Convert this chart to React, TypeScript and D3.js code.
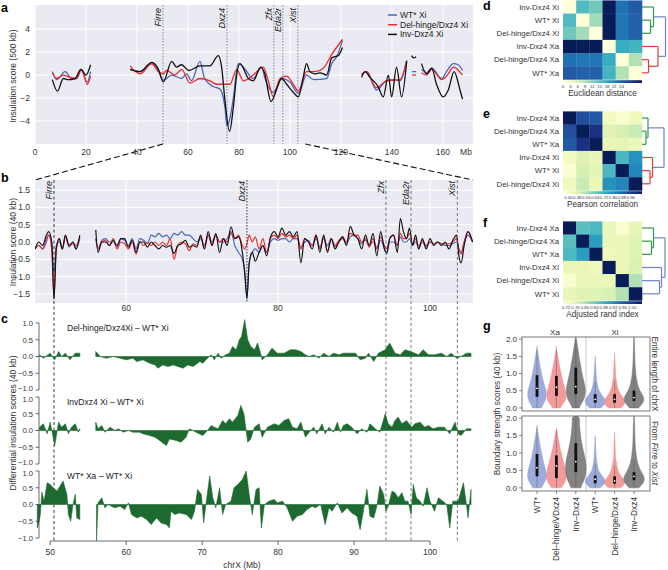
import React, { useEffect } from "react";
import * as d3 from "d3";

type P = [number, number];

const FONT = "'Liberation Sans', Arial, Helvetica, sans-serif";
const C_BLUE = "#4a66bf";
const C_RED = "#ec2a2a";
const C_BLACK = "#111111";
const C_GREEN = "#1d6a31";
const BG = "#eaeaf2";
const TXT = "#333333";

// ---------------- panel a ----------------
const aXTicks = [0, 20, 40, 60, 80, 100, 120, 140, 160];
const aYTicks = [-4, -2, 0, 2, 4];
const geneNames = ["Firre", "Dxz4", "Zfx", "Eda2r", "Xist"];
const genePosA = [50.2, 75.3, 93.7, 97.2, 103.1];
const genePosB = [50.5, 75.9, 94.2, 97.5, 103.6];
const seriesNames = ["WT* Xi", "Del-hinge/Dxz4 Xi", "Inv-Dxz4 Xi"];
const seriesColors = [C_BLUE, C_RED, C_BLACK];

const aBlue: P[][] = [
  [[6.8, 0.3], [8.5, -0.4], [11.8, 0.3], [14.4, -0.3], [16.3, -0.3], [18.0, 0.5], [20.5, -0.6], [21.8, 0.3]],
  [[37.3, 0.5], [41.2, 0.3], [45.8, 1.0], [48.0, 0.6], [50.3, -0.45], [53.6, 0.0], [57.5, -0.3], [59.5, 0.1], [61.4, -0.5], [64.7, 1.2], [66.5, -0.3], [69.9, -1.0], [72.5, -1.2], [74.6, -3.0], [75.2, -4.4], [76.2, -4.0], [77.8, -2.0], [79.7, 1.0], [81.7, 0.7], [85.6, -0.3], [88.9, 0.7], [90.2, -0.3], [93.5, -1.5], [96.7, -0.3], [100.0, -0.6], [103.3, -1.6], [106.5, 0.0], [109.2, -0.4], [114.4, -0.3], [116.4, 1.0], [118.3, 1.6], [120.6, 3.0]],
  [[128.1, 0.1], [130.1, 0.3], [133.9, -1.3], [137.9, -0.5], [140.5, -0.4], [143.1, -0.5], [145.8, 1.3]],
  [[147.9, 0.3], [149.5, 0.3]],
  [[151.6, 0.5], [153.6, 0.2], [155.6, 0.6], [159.5, -0.3], [161.4, 0.3], [164.1, 1.0], [166.0, 0.9], [167.7, 0.4]],
];
const aRed: P[][] = [
  [[6.8, 0.2], [8.5, -0.3], [11.1, 0.0], [13.7, -0.2], [16.3, -0.3], [18.3, 0.5], [20.5, -0.8], [21.8, -0.1]],
  [[37.3, 0.8], [41.2, 0.1], [45.8, 1.0], [48.4, 0.3], [50.3, 0.1], [51.6, 0.4], [54.9, 0.0], [57.5, 0.5], [60.8, -0.7], [64.7, -0.3], [68.6, -0.5], [71.2, -0.8], [76.5, -0.8], [79.1, 0.5], [81.7, -0.5], [85.6, 0.0], [89.5, 0.7], [91.5, -0.5], [93.5, -1.9], [96.1, -0.3], [98.7, -0.1], [101.3, -0.8], [103.3, -1.4], [106.5, 0.3], [109.8, 0.3], [113.1, 0.6], [116.4, 1.8], [120.6, 3.1]],
  [[128.1, 0.0], [130.1, 0.3], [133.9, -1.1], [137.9, -0.5], [143.1, -0.4], [145.8, 1.2]],
  [[147.9, 0.0], [149.5, 0.0]],
  [[151.6, 0.2], [153.6, 0.0], [155.6, 0.5], [159.5, -0.4], [162.1, 0.1], [164.1, 0.7], [167.7, 0.0]],
];
const aBlack: P[][] = [
  [[6.8, -0.4], [8.8, -1.4], [11.1, -0.3], [13.1, -0.4], [15.7, -0.3], [18.0, 0.5], [20.0, 0.0], [21.8, 0.9]],
  [[37.3, 0.5], [41.2, 0.3], [45.8, 1.1], [48.4, 0.5], [50.3, -0.6], [53.6, 1.2], [55.5, 0.7], [57.5, 0.9], [60.3, 0.4], [64.7, 0.8], [68.6, 0.8], [71.9, 1.7], [73.2, 0.7], [74.5, -2.2], [76.3, -4.9], [77.8, -2.8], [79.1, 0.0], [80.4, 1.0], [83.7, -0.3], [85.6, -0.5], [88.5, 0.7], [90.0, 0.2], [92.6, -2.3], [94.8, -1.2], [96.7, -0.3], [98.7, -0.8], [101.3, -1.5], [103.3, -1.9], [105.2, -0.2], [106.5, 1.0], [107.8, 0.3], [109.8, 0.1], [111.8, 0.2], [114.4, 0.0], [116.4, 1.5], [119.0, 1.7], [120.6, 2.4]],
  [[128.1, -0.2], [129.4, 0.3], [131.4, -0.2], [134.6, -1.0], [136.6, -1.9], [138.6, 0.0], [139.9, -1.9], [141.8, 0.7], [143.8, -1.9], [145.8, 1.2]],
  [[147.7, 1.7], [148.5, 1.5], [149.5, 1.6]],
  [[151.6, 1.0], [153.6, 0.1], [155.6, 0.6], [157.5, -0.8], [160.1, -1.9], [162.1, -1.3], [164.4, 0.3], [166.7, -1.3], [167.7, -2.1]],
];

// ---------------- panel b ----------------
const bXTicks = [60, 80, 100];
const bYTicks = [-1.5, -1.0, -0.5, 0.0, 0.5, 1.0, 1.5];
const bX1 = [48, 48.5, 49, 49.5, 49.8, 50.2, 50.5, 50.8, 51.2, 51.6, 52, 52.5, 53, 53.4, 53.9];
const bBlack1 = [-0.2, 0, -0.1, 0.2, 0.3, 0, -1.65, -0.2, 0.1, -0.2, 0.2, -0.1, 0, -0.2, 0.2];
const bBlue1 = [-0.2, -0.1, -0.2, 0, 0.2, 0, -0.9, -0.1, 0, -0.2, 0.15, -0.15, 0, -0.2, 0.1];
const bRed1 = [-0.2, -0.1, -0.2, 0.1, 0.2, -0.2, -1.6, -0.2, 0.1, -0.2, 0.15, -0.1, -0.05, -0.1, 0.15];
const bX2 = [
  56.0, 56.3, 56.8, 57.3, 57.8, 58.3, 58.8, 59.3, 59.8, 60.3,
  60.8, 61.3, 61.8, 62.3, 62.8, 63.3, 63.8, 64.3, 64.8, 65.3,
  65.8, 66.3, 66.8, 67.3, 67.8, 68.3, 68.8, 69.3, 69.8, 70.3,
  70.8, 71.3, 71.8, 72.3, 72.8, 73.3, 73.8, 74.3, 74.8, 75.3,
  75.6, 75.9, 76.2, 76.6, 77.0, 77.5, 78.0, 78.5, 79.0, 79.5,
  80.0, 80.5, 81.0, 81.5, 82.0, 82.5, 83.0, 83.5, 84.0, 84.5,
  85.0, 85.5, 86.0, 86.5, 87.0, 87.5, 88.0, 88.5, 89.0, 89.5,
  90.0, 90.5, 91.0, 91.5, 92.0, 92.5, 93.0, 93.5, 94.0, 94.3,
  94.7, 95.2, 95.7, 96.1, 96.5, 96.9, 97.3, 97.7, 98.1, 98.5,
  99.0, 99.5, 100.0, 100.5, 101.0, 101.5, 102.0, 102.5, 103.0, 103.5,
  103.8, 104.1, 104.5, 105.0, 105.6,
];
const bBlack2 = [
  0.35, -0.3, 0.0, 0.0, -0.1, 0.05, -0.1, 0.1, 0.1, -0.15,
  0.05, -0.3, 0.0, 0.0, -0.15, 0.0, -0.1, -0.2, -0.1, -0.15,
  -0.1, -0.33, -0.1, -0.05, 0.05, -0.15, -0.1, -0.15, 0.2, -0.2,
  0.3, -0.1, 0.25, -0.3, 0.1, -0.1, 0.44, 0.1, 0.15, -0.3,
  -0.9, -1.6, -0.6, -0.3, -0.55, -0.3, -0.1, -0.4, 0.15, 0.3,
  0.15, 0.4, 0.2, 0.3, 0.15, 0.3, -0.6, 0.1, 0.0, -0.2,
  0.2, -0.3, 0.2, -0.3, 0.1, -0.2, 0.0, 0.15, -0.1, 0.45,
  0.2, 0.1, -0.2, 0.2, -0.1, 0.25, -0.4, 0.3, -0.2, -0.3,
  0.1, 0.2, -0.3, 0.68, 0.3, 0.1, 0.4, -0.1, 0.2, -0.2,
  0.1, -0.2, 0.1, -0.1, 0.0, -0.1, 0.0, -0.2, 0.05, 0.2,
  -0.4, -0.6, -0.1, 0.3, 0.0,
];
const bBlue2 = [
  0.1, -0.2, 0.05, 0.1, 0.0, 0.0, -0.15, 0.1, 0.05, -0.1,
  0.1, -0.2, 0.1, 0.05, -0.05, 0.2, 0.15, 0.25, 0.15, 0.2,
  0.1, 0.25, 0.2, 0.3, 0.2, 0.2, 0.1, 0.0, 0.1, -0.1,
  0.2, 0.0, 0.2, 0.0, 0.0, 0.1, 0.3, -0.1, -0.3, -0.5,
  -0.8, -1.65, -0.6, -0.3, -0.2, -0.3, -0.1, -0.3, 0.0, 0.1,
  0.05, 0.1, 0.1, 0.0, 0.1, 0.1, -0.15, 0.0, 0.05, -0.1,
  0.1, -0.15, 0.1, -0.1, 0.1, -0.15, 0.0, 0.1, -0.05, 0.15,
  0.2, 0.1, -0.05, 0.05, -0.1, 0.0, -0.15, 0.05, -0.2, -0.35,
  0.0, 0.0, -0.1, 0.15, 0.0, 0.0, 0.1, -0.1, 0.0, -0.1,
  0.0, -0.15, 0.0, -0.05, 0.0, -0.05, -0.1, -0.1, -0.05, 0.0,
  -0.2, -0.3, 0.0, 0.2, 0.0,
];
const bRed2 = [
  0.1, -0.2, 0.0, 0.05, -0.1, 0.1, -0.2, 0.0, -0.05, -0.2,
  0.0, -0.35, 0.0, -0.1, 0.0, -0.1, 0.0, -0.1, 0.0, -0.1,
  0.1, -0.5, -0.1, 0.0, -0.05, -0.25, -0.05, -0.1, 0.15, -0.2,
  0.2, -0.1, 0.2, 0.0, 0.1, 0.0, 0.25, 0.1, 0.2, -0.1,
  -0.2, -0.05, 0.2, 0.0, 0.15, -0.2, 0.1, -0.3, 0.1, 0.2,
  0.1, 0.25, 0.15, 0.2, 0.1, 0.2, -0.2, 0.1, 0.0, -0.1,
  0.2, -0.2, 0.15, -0.25, 0.1, -0.1, 0.05, 0.15, 0.0, 0.25,
  0.2, 0.2, 0.0, 0.1, -0.15, 0.1, -0.2, 0.15, -0.1, -0.2,
  0.1, 0.2, -0.1, 0.25, 0.1, 0.1, 0.25, -0.05, 0.1, -0.2,
  0.05, -0.1, 0.0, -0.05, 0.0, -0.05, -0.05, -0.05, 0.0, 0.1,
  -0.2, -0.35, 0.0, 0.3, 0.0,
];

// ---------------- panel c ----------------
const cXTicks = [50, 60, 70, 80, 90, 100];
const cYTicks = [-1.0, -0.5, 0.0, 0.5, 1.0];
const cTitles = ["Del-hinge/Dxz4Xi \u2013 WT* Xi", "InvDxz4 Xi \u2013 WT* Xi", "WT* Xa \u2013 WT* Xi"];
const cDel: P[][] = [
  [[48.6, 0.05], [49.1, -0.05], [50.0, 0.1], [50.6, -0.1], [51.1, 0.15], [51.5, 0.0], [52.0, 0.1], [52.6, -0.1], [53.3, 0.1], [53.9, 0.1]],
  [[56.0, 0.15], [56.6, 0.0], [57.4, -0.05], [58.3, 0.0], [59.2, -0.05], [60.0, -0.1], [60.9, -0.05], [61.4, -0.15], [62.2, -0.1], [63.1, -0.2], [63.8, -0.25], [64.2, -0.35], [64.8, -0.25], [65.5, -0.3], [66.2, -0.25], [67.5, -0.35], [68.1, -0.25], [68.8, -0.3], [69.7, -0.15], [70.1, -0.2], [70.5, -0.1], [71.2, 0.05], [71.6, -0.1], [72.1, 0.1], [72.5, -0.05], [73.1, 0.05], [73.6, 0.1], [74.0, 0.3], [74.5, 0.2], [74.9, 0.5], [75.2, 0.6], [75.6, 1.1], [76.0, 0.5], [76.4, 0.3], [76.9, 0.2], [77.3, 0.4], [77.7, 0.1], [77.9, -0.1], [78.6, 0.05], [79.2, 0.25], [79.9, 0.1], [80.8, 0.1], [81.6, 0.2], [82.3, 0.2], [83.0, 0.15], [83.6, 0.05], [84.1, 0.0], [84.7, 0.05], [85.4, -0.05], [86.0, 0.1], [86.7, 0.0], [87.3, 0.1], [88.0, 0.05], [88.6, 0.1], [89.5, 0.1], [90.2, 0.1], [90.8, -0.1], [91.5, -0.05], [91.9, 0.1], [92.6, -0.15], [93.2, 0.1], [94.1, 0.2], [94.7, 0.4], [95.4, 0.1], [96.1, 0.05], [96.7, 0.2], [97.4, 0.15], [98.0, 0.1], [98.5, 0.05], [99.1, 0.2], [99.8, 0.05], [100.6, 0.05], [101.5, 0.1], [102.2, 0.0], [102.8, 0.1], [103.5, -0.05], [104.1, 0.0], [104.8, 0.1], [105.4, 0.1]],
];
const cInv: P[][] = [
  [[48.6, 0.1], [49.1, 0.2], [49.6, -0.1], [50.0, 0.25], [50.6, -0.45], [51.1, 0.25], [51.5, 0.1], [52.0, 0.2], [52.4, -0.1], [52.8, 0.1], [53.3, 0.2], [53.7, -0.05], [53.9, 0.05]],
  [[56.0, 0.25], [56.3, 0.05], [56.8, 0.15], [57.2, -0.05], [57.9, 0.1], [58.5, 0.0], [59.0, 0.05], [59.6, -0.05], [60.3, 0.0], [60.9, -0.05], [61.8, -0.05], [62.2, -0.1], [63.1, -0.15], [63.8, -0.2], [64.4, -0.3], [65.3, -0.45], [65.7, -0.25], [66.6, -0.3], [67.2, -0.35], [67.9, -0.2], [68.3, 0.05], [68.8, 0.0], [69.2, -0.05], [70.1, -0.15], [70.7, 0.0], [71.2, 0.15], [71.6, 0.1], [72.1, 0.05], [72.7, 0.3], [73.1, 0.2], [73.6, 0.35], [74.0, 0.25], [74.7, 0.45], [75.1, 0.75], [75.5, 0.5], [76.0, -0.35], [76.4, -0.25], [76.9, 0.1], [77.5, 0.2], [77.9, -0.2], [78.6, 0.1], [79.5, 0.2], [80.1, 0.15], [80.8, 0.3], [81.4, 0.35], [81.9, 0.1], [82.5, 0.05], [83.0, 0.25], [83.6, -0.2], [84.1, -0.05], [84.7, 0.1], [85.1, -0.1], [85.8, 0.2], [86.2, -0.1], [86.7, 0.1], [87.3, -0.05], [87.8, 0.25], [88.2, -0.05], [88.6, 0.15], [89.1, 0.2], [89.7, 0.1], [90.4, -0.1], [91.0, 0.05], [91.7, -0.05], [92.1, 0.2], [92.8, 0.05], [93.4, -0.05], [94.1, 0.5], [94.5, 0.2], [95.0, 0.1], [95.4, 0.3], [95.8, 0.4], [96.3, 0.2], [96.9, 0.3], [97.6, 0.1], [98.0, 0.2], [98.7, 0.25], [99.3, 0.1], [99.8, 0.15], [100.4, 0.05], [101.1, 0.1], [101.9, 0.1], [102.6, -0.1], [103.3, 0.25], [103.7, -0.1], [104.1, -0.15], [104.8, 0.05], [105.4, 0.05]],
];
const cXa: P[][] = [
  [[48.3, -0.7], [48.5, -0.55], [48.7, -0.3], [48.9, 0.37], [49.2, 0.1], [49.6, 0.65], [50.0, 0.6], [50.4, 0.5], [50.9, 0.4], [51.3, 0.55], [51.7, 0.7], [52.2, 0.3], [52.4, -0.3], [52.7, -0.5], [53.0, 0.0], [53.3, 0.3], [53.5, -0.4], [53.9, -0.45]],
  [[56.1, -1.08], [56.3, 0.05], [56.8, 0.2], [57.2, -0.1], [57.6, 0.0], [58.5, -0.1], [59.2, -0.05], [59.8, -0.15], [60.3, 0.05], [60.7, -0.3], [61.4, -0.4], [62.0, -0.35], [62.7, -0.45], [63.3, -0.6], [64.0, -0.4], [64.6, -0.55], [65.3, -0.6], [65.7, -0.7], [65.9, -0.2], [66.4, -0.3], [67.0, -0.25], [67.9, -0.3], [68.6, -0.45], [69.0, -0.2], [69.4, 0.45], [69.9, 0.3], [70.2, -0.55], [70.5, 0.0], [71.0, 0.85], [71.4, 0.2], [71.8, -0.1], [72.3, 0.5], [72.7, -0.3], [73.1, 0.0], [73.8, 0.1], [74.2, 0.5], [74.7, 0.6], [75.3, 0.75], [75.8, 1.0], [76.2, 0.3], [76.6, -0.3], [77.1, 0.45], [77.5, 0.5], [77.8, -0.7], [78.2, 0.0], [78.8, 0.1], [79.5, 0.15], [79.9, 0.05], [80.6, 0.1], [81.2, -0.1], [81.9, -0.5], [82.5, -0.35], [83.2, -0.3], [83.8, -0.15], [84.5, -0.05], [84.9, -0.1], [85.6, 0.0], [86.2, -0.6], [86.7, -0.1], [87.1, -0.2], [87.8, 0.05], [88.4, -0.25], [89.1, -0.1], [89.7, -0.25], [90.4, -0.35], [90.8, -0.75], [91.3, -0.1], [91.7, 0.45], [92.1, -0.35], [92.6, -0.4], [93.0, -0.05], [93.4, 0.55], [93.9, 0.3], [94.2, -0.2], [94.5, -0.05], [95.0, 0.4], [95.4, 0.35], [95.8, 0.2], [96.3, 0.35], [96.7, 0.1], [97.1, 0.1], [97.5, -0.3], [97.8, 0.6], [98.2, 0.2], [98.7, 0.1], [99.1, -0.05], [99.6, 0.5], [100.0, 0.1], [100.6, -0.2], [101.1, 0.2], [101.7, 0.1], [102.2, 0.0], [102.6, -0.7], [103.0, 0.1], [103.7, 0.1], [104.4, 0.65], [104.8, 0.0], [105.0, -0.4], [105.4, 0.45]],
];

// ---------------- panels d, e, f ----------------
const dLabels = ["Inv-Dxz4 Xi", "WT* Xi", "Del-hinge/Dxz4 Xi", "Inv-Dxz4 Xa", "Del-hinge/Dxz4 Xa", "WT* Xa"];
const dMatrix = [
  [0, 15, 13, 32, 22.5, 24.5],
  [15, 0, 10, 32, 22, 24],
  [13, 10, 0, 32, 22, 24],
  [32, 32, 32, 0, 17, 16],
  [22.5, 22, 22, 17, 0, 9],
  [24.5, 24, 24, 16, 9, 0],
];
const dTicks = [0, 3, 6, 9, 12, 15, 18, 21, 24];
const eLabels = ["Inv-Dxz4 Xa", "Del-hinge/Dxz4 Xa", "WT* Xa", "Inv-Dxz4 Xi", "WT* Xi", "Del-hinge/Dxz4 Xi"];
const eMatrix = [
  [1, 0.876, 0.857, 0.43, 0.4, 0.44],
  [0.876, 1, 0.94, 0.48, 0.5, 0.52],
  [0.857, 0.94, 1, 0.46, 0.47, 0.45],
  [0.43, 0.48, 0.46, 1, 0.68, 0.76],
  [0.4, 0.5, 0.47, 0.68, 1, 0.78],
  [0.44, 0.52, 0.45, 0.76, 0.78, 1],
];
const eTicks = [0.4, 0.48, 0.56, 0.64, 0.72, 0.8, 0.88, 0.96];
const fLabels = ["Inv-Dxz4 Xa", "Del-hinge/Dxz4 Xa", "WT* Xa", "Inv-Dxz4 Xi", "Del-hinge/Dxz4 Xi", "WT* Xi"];
const fMatrix = [
  [1, 0.835, 0.845, 0.735, 0.71, 0.74],
  [0.835, 1, 0.875, 0.735, 0.735, 0.75],
  [0.845, 0.875, 1, 0.73, 0.735, 0.75],
  [0.735, 0.735, 0.73, 1, 0.735, 0.755],
  [0.71, 0.735, 0.735, 0.735, 1, 0.785],
  [0.74, 0.75, 0.75, 0.755, 0.785, 1],
];
const fTicks = [0.72, 0.76, 0.8, 0.84, 0.88, 0.92, 0.96, 1.0];

const DG = "#2e9a4a";
const DR = "#e8383d";
const DB = "#6f84cc";
type Tree = { leaf: number } | { kids: [Tree, Tree]; h: number; c: string };
const dTree: Tree = {
  kids: [
    { kids: [{ leaf: 0 }, { kids: [{ leaf: 1 }, { leaf: 2 }], h: 8.5, c: DG }], h: 11.5, c: DG },
    { kids: [{ leaf: 3 }, { kids: [{ leaf: 4 }, { leaf: 5 }], h: 6.5, c: DR }], h: 16, c: DR },
  ], h: 23.5, c: DB,
};
const eTree: Tree = {
  kids: [
    { kids: [{ leaf: 0 }, { kids: [{ leaf: 1 }, { leaf: 2 }], h: 4, c: DG }], h: 6, c: DG },
    { kids: [{ leaf: 3 }, { kids: [{ leaf: 4 }, { leaf: 5 }], h: 8, c: DR }], h: 10.5, c: DR },
  ], h: 22, c: DB,
};
const fTree: Tree = {
  kids: [
    { kids: [{ leaf: 0 }, { kids: [{ leaf: 1 }, { leaf: 2 }], h: 9.5, c: DG }], h: 11.5, c: DG },
    { kids: [{ leaf: 3 }, { kids: [{ leaf: 4 }, { leaf: 5 }], h: 17.5, c: DB }], h: 19.5, c: DB },
  ], h: 23, c: DB,
};

// ---------------- panel g ----------------
const gCats = ["WT*", "Del\u2013hinge/VDxz4", "Inv\u2013Dxz4", "WT*", "Del\u2013hinge/Dxz4", "Inv\u2013Dxz4"];
const gFill = ["#8d9bd5", "#f08a8a", "#6e6e6e", "#8d9bd5", "#f08a8a", "#6e6e6e"];
const gYTicks = [0.0, 0.5, 1.0, 1.5, 2.0];
const gLevels = [0, 0.1, 0.2, 0.3, 0.4, 0.5, 0.6, 0.7, 0.8, 0.9, 1.0, 1.1, 1.2, 1.3, 1.4, 1.5, 1.6, 1.7, 1.8, 1.9, 2.0, 2.1];
const gTopWidths = [
  [0.45, 0.6, 0.8, 0.9, 0.92, 0.9, 0.8, 0.7, 0.6, 0.52, 0.45, 0.38, 0.32, 0.26, 0.2, 0.14, 0.08, 0.02, 0, 0, 0, 0],
  [0.4, 0.6, 0.85, 0.95, 0.95, 0.9, 0.8, 0.7, 0.62, 0.55, 0.47, 0.4, 0.33, 0.27, 0.2, 0.14, 0.08, 0.02, 0, 0, 0, 0],
  [0.35, 0.5, 0.7, 0.85, 0.92, 0.95, 0.92, 0.85, 0.78, 0.7, 0.62, 0.55, 0.5, 0.44, 0.38, 0.32, 0.27, 0.22, 0.16, 0.1, 0.05, 0],
  [0.55, 0.9, 1.0, 0.85, 0.6, 0.4, 0.28, 0.2, 0.15, 0.12, 0.1, 0.08, 0.06, 0.04, 0.01, 0, 0, 0, 0, 0, 0, 0],
  [0.6, 0.95, 1.0, 0.85, 0.6, 0.42, 0.3, 0.22, 0.16, 0.12, 0.1, 0.08, 0.06, 0.05, 0.03, 0.01, 0, 0, 0, 0, 0, 0],
  [0.45, 0.75, 0.95, 0.95, 0.8, 0.6, 0.45, 0.35, 0.28, 0.22, 0.18, 0.15, 0.12, 0.1, 0.09, 0.08, 0.07, 0.06, 0.05, 0.04, 0.02, 0],
];
const gBotWidths = [
  [0.45, 0.62, 0.82, 0.92, 0.93, 0.88, 0.78, 0.68, 0.6, 0.52, 0.45, 0.38, 0.32, 0.26, 0.2, 0.14, 0.08, 0.02, 0, 0, 0, 0],
  [0.5, 0.7, 0.9, 0.98, 0.97, 0.92, 0.85, 0.75, 0.65, 0.56, 0.48, 0.4, 0.33, 0.26, 0.19, 0.12, 0.06, 0, 0, 0, 0, 0],
  [0.5, 0.62, 0.78, 0.9, 0.98, 1.02, 1.02, 1.0, 0.95, 0.88, 0.8, 0.72, 0.65, 0.58, 0.52, 0.47, 0.43, 0.4, 0.38, 0.36, 0.34, 0],
  [0.5, 0.85, 1.0, 0.8, 0.55, 0.35, 0.25, 0.18, 0.13, 0.1, 0.08, 0.06, 0.05, 0.03, 0.01, 0, 0, 0, 0, 0, 0, 0],
  [0.6, 0.95, 0.95, 0.75, 0.5, 0.35, 0.25, 0.2, 0.12, 0.09, 0.07, 0.06, 0.05, 0.04, 0.03, 0.01, 0, 0, 0, 0, 0, 0],
  [0.5, 0.8, 1.0, 1.0, 0.85, 0.65, 0.5, 0.38, 0.3, 0.24, 0.2, 0.16, 0.13, 0.11, 0.1, 0.09, 0.08, 0.07, 0.06, 0.05, 0.03, 0],
];
// [q1, median, q3, upper whisker]
const gTopBox = [[0.32, 0.57, 0.95, 1.7], [0.35, 0.6, 0.93, 1.7], [0.4, 0.62, 1.17, 2.0], [0.15, 0.25, 0.4, 0.75], [0.15, 0.25, 0.4, 0.8], [0.2, 0.3, 0.5, 0.95]];
const gBotBox = [[0.33, 0.58, 0.97, 1.72], [0.28, 0.63, 0.93, 1.68], [0.45, 0.75, 1.28, 2.0], [0.13, 0.25, 0.35, 0.7], [0.12, 0.2, 0.33, 0.65], [0.22, 0.33, 0.45, 0.8]];

const zip = (xs: number[], vs: number[]): P[] => xs.map((x, i) => [x, vs[i]] as P);
const fmt1 = (v: number) => (v < 0 ? "\u2212" : "") + Math.abs(v).toFixed(1);
const fmt0 = (v: number) => (v < 0 ? "\u2212" : "") + Math.abs(v).toFixed(0);

function Heatmap(props: {
  id: string; top: number; labels: string[]; matrix: number[][]; vmin: number; vmax: number;
  barDomain: [number, number]; ticks: number[]; tickFmt: (v: number) => string; title: string; tree: Tree; letter: string; letterY: number;
}) {
  const { id, top, labels, matrix, vmin, vmax, barDomain, ticks, tickFmt, title, tree, letter, letterY } = props;
  const x0 = 563, x1 = 642;
  const cell = (x1 - x0) / 6;
  const color = d3.scaleSequential(d3.interpolateYlGnBu).domain([vmin, vmax]);
  const bar = d3.scaleLinear().domain(barDomain).range([x0, x1]);
  const barY = top + cell * 6 + 0.8;
  const stops = d3.range(0, 1.0001, 0.1);
  const lines: JSX.Element[] = [];
  let k = 0;
  const walk = (t: Tree): { x: number; y: number } => {
    if ("leaf" in t) return { x: x1, y: top + (t.leaf + 0.5) * cell };
    const a = walk(t.kids[0]);
    const b = walk(t.kids[1]);
    const hx = x1 + t.h;
    lines.push(<line key={k++} x1={a.x} x2={hx} y1={a.y} y2={a.y} stroke={t.c} strokeWidth={1.2} />);
    lines.push(<line key={k++} x1={b.x} x2={hx} y1={b.y} y2={b.y} stroke={t.c} strokeWidth={1.2} />);
    lines.push(<line key={k++} x1={hx} x2={hx} y1={a.y} y2={b.y} stroke={t.c} strokeWidth={1.2} />);
    return { x: hx, y: (a.y + b.y) / 2 };
  };
  walk(tree);
  return (
    <g>
      <defs>
        <linearGradient id={id} x1="0" x2="1" y1="0" y2="0">
          {stops.map((s, i) => <stop key={i} offset={s} stopColor={d3.interpolateYlGnBu(s)} />)}
        </linearGradient>
      </defs>
      <text x={483} y={letterY} fontSize={12.5} fontWeight="bold" fill="#000">{letter}</text>
      {matrix.map((row, i) => row.map((v, j) => (
        <rect key={`${i}-${j}`} x={x0 + j * cell} y={top + i * cell} width={cell + 0.3} height={cell + 0.3} fill={color(v)} />
      )))}
      {labels.map((l, i) => (
        <text key={l} x={559} y={top + (i + 0.5) * cell + 2.8} fontSize={7.8} textAnchor="end" fill={TXT}>{l}</text>
      ))}
      <rect x={x0} y={barY} width={x1 - x0} height={2.8} fill={`url(#${id})`} />
      {ticks.map((t) => (
        <text key={t} x={bar(t)} y={barY + 7.5} fontSize={4.3} textAnchor="middle" fill={TXT}>{tickFmt(t)}</text>
      ))}
      <text x={(x0 + x1) / 2} y={barY + 16} fontSize={8.2} textAnchor="middle" fill={TXT}>{title}</text>
      {lines}
    </g>
  );
}

export default function App() {
  useEffect(() => {
    document.body.style.margin = "0";
  }, []);

  // scales
  const xA = d3.scaleLinear().domain([0, 171.8]).range([35, 473]);
  const yA = d3.scaleLinear().domain([-6, 6.1]).range([144, 5]);
  const xB = d3.scaleLinear().domain([48, 105.66]).range([35, 473]);
  const yB = d3.scaleLinear().domain([-1.76, 1.79]).range([303, 180]);
  const cTops = [323, 397, 471];
  const yC = cTops.map((t) => d3.scaleLinear().domain([-1, 1]).range([t + 67, t]));

  const lineA = d3.line<P>().x((d) => xA(d[0])).y((d) => yA(d[1])).curve(d3.curveMonotoneX);
  const lineB = d3.line<P>().x((d) => xB(d[0])).y((d) => yB(d[1])).curve(d3.curveMonotoneX);

  const aSeries = [aBlue, aRed, aBlack];
  const bSeries = [
    [zip(bX1, bBlue1), zip(bX2, bBlue2)],
    [zip(bX1, bRed1), zip(bX2, bRed2)],
    [zip(bX1, bBlack1), zip(bX2, bBlack2)],
  ];
  const cSeries = [cDel, cInv, cXa];

  // panel g scales
  const gX = d3.scaleLinear().domain([0, 5]).range([537, 634]);
  const gTopY = d3.scaleLinear().domain([-0.09, 2.06]).range([411, 337]);
  const gBotY = d3.scaleLinear().domain([-0.09, 2.06]).range([491, 416]);
  const gUnit = 10;

  const violin = (cx: number, w: number[], ys: d3.ScaleLinear<number, number>) => {
    const pts = gLevels.map((l, i) => ({ l, w: w[i] }));
    let last = pts.length - 1;
    while (last > 0 && pts[last - 1].w === 0) last--;
    const used = pts.slice(0, last + 1);
    return d3.area<{ l: number; w: number }>()
      .y((d) => ys(d.l))
      .x0((d) => cx - d.w * gUnit)
      .x1((d) => cx + d.w * gUnit)
      .curve(d3.curveCatmullRom)(used) || "";
  };

  const facet = (ys: d3.ScaleLinear<number, number>, widths: number[][], boxes: number[][], top: number, bottom: number, clipId: string) => (
    <g>
      <defs>
        <clipPath id={clipId}><rect x={522} y={top} width={128} height={bottom - top} /></clipPath>
      </defs>
      <line x1={586} x2={586} y1={top} y2={bottom} stroke="#bbbbbb" strokeWidth={0.8} />
      <g clipPath={`url(#${clipId})`}>
        {widths.map((w, i) => (
          <path key={i} d={violin(gX(i), w, ys)} fill={gFill[i]} fillOpacity={0.85} stroke={gFill[i]} strokeWidth={0.5} />
        ))}
        {boxes.map((b, i) => (
          <g key={i}>
            <line x1={gX(i)} x2={gX(i)} y1={ys(0)} y2={ys(b[3])} stroke="#444" strokeOpacity={0.55} strokeWidth={0.7} />
            <rect x={gX(i) - 1.4} y={ys(b[2])} width={2.8} height={ys(b[0]) - ys(b[2])} fill="#111" />
            <circle cx={gX(i)} cy={ys(b[1])} r={0.9} fill="#fff" />
          </g>
        ))}
      </g>
      <rect x={522} y={top} width={128} height={bottom - top} fill="none" stroke="#555" strokeWidth={0.8} />
      {gYTicks.map((t) => (
        <g key={t}>
          <line x1={519} x2={522} y1={ys(t)} y2={ys(t)} stroke="#555" strokeWidth={0.7} />
          <text x={517} y={ys(t) + 2.8} fontSize={8} textAnchor="end" fill={TXT}>{t.toFixed(1)}</text>
        </g>
      ))}
    </g>
  );

  return (
    <svg width={668} height={570} style={{ position: "absolute", left: 0, top: 0, fontFamily: FONT }}>
      <rect width={668} height={570} fill="#fff" />
      <defs>
        <clipPath id="clipA"><rect x={35} y={5} width={438} height={139} /></clipPath>
        <clipPath id="clipB"><rect x={35} y={180} width={438} height={123} /></clipPath>
      </defs>

      {/* ---------- panel a ---------- */}
      <text x={1} y={12} fontSize={12.5} fontWeight="bold">a</text>
      <rect x={35} y={5} width={438} height={139} fill={BG} />
      {aXTicks.map((t) => <line key={t} x1={xA(t)} x2={xA(t)} y1={5} y2={144} stroke="#fff" strokeWidth={1} />)}
      {aYTicks.map((t) => <line key={t} x1={35} x2={473} y1={yA(t)} y2={yA(t)} stroke="#fff" strokeWidth={1} />)}
      {genePosA.map((g, i) => (
        <g key={i}>
          <line x1={xA(g)} x2={xA(g)} y1={5} y2={144} stroke="#777" strokeWidth={0.8} strokeDasharray="1.6,1.4" />
          <text transform={`translate(${xA(g) - 1.5},8) rotate(-90)`} textAnchor="end" fontSize={9} fontStyle="italic" fill="#222">{geneNames[i]}</text>
        </g>
      ))}
      <g clipPath="url(#clipA)">
        {aSeries.map((segs, si) => segs.map((s, k) => (
          <path key={`${si}-${k}`} d={lineA(s) || ""} fill="none" stroke={seriesColors[si]} strokeWidth={1.3} />
        )))}
      </g>
      {aYTicks.map((t) => <text key={t} x={30} y={yA(t) + 3} fontSize={8.5} textAnchor="end" fill={TXT}>{fmt0(t)}</text>)}
      {aXTicks.map((t) => <text key={t} x={xA(t)} y={155} fontSize={8.5} textAnchor="middle" fill={TXT}>{t}</text>)}
      <text x={466} y={155} fontSize={8.5} textAnchor="middle" fill={TXT}>Mb</text>
      <text transform="translate(16,76) rotate(-90)" fontSize={8.5} textAnchor="middle" fill={TXT}>Insulation score (500 kb)</text>
      {seriesNames.map((n, i) => (
        <g key={n}>
          <line x1={388} x2={397} y1={15 + i * 9.7} y2={15 + i * 9.7} stroke={seriesColors[i]} strokeWidth={1.5} />
          <text x={400} y={18 + i * 9.7} fontSize={8.5} fill="#222">{n}</text>
        </g>
      ))}

      {/* zoom connectors */}
      <line x1={xA(50.2)} y1={144} x2={35} y2={180} stroke="#111" strokeWidth={1.1} strokeDasharray="6,3" />
      <line x1={xA(106)} y1={144} x2={473} y2={180} stroke="#111" strokeWidth={1.1} strokeDasharray="6,3" />

      {/* ---------- panel b ---------- */}
      <text x={1} y={182} fontSize={12.5} fontWeight="bold">b</text>
      <rect x={35} y={180} width={438} height={123} fill={BG} />
      {bXTicks.map((t) => <line key={t} x1={xB(t)} x2={xB(t)} y1={180} y2={303} stroke="#fff" strokeWidth={1} />)}
      {bYTicks.map((t) => <line key={t} x1={35} x2={473} y1={yB(t)} y2={yB(t)} stroke="#fff" strokeWidth={1} />)}
      <g clipPath="url(#clipB)">
        {bSeries.map((segs, si) => segs.map((s, k) => (
          <path key={`${si}-${k}`} d={lineB(s) || ""} fill="none" stroke={seriesColors[si]} strokeWidth={1.15} />
        )))}
      </g>
      {bYTicks.map((t) => <text key={t} x={30} y={yB(t) + 3} fontSize={8.5} textAnchor="end" fill={TXT}>{fmt1(t)}</text>)}
      {bXTicks.map((t) => <text key={t} x={xB(t)} y={311} fontSize={8.5} textAnchor="middle" fill={TXT}>{t}</text>)}
      <text transform="translate(16,242) rotate(-90)" fontSize={8.5} textAnchor="middle" fill={TXT}>Insulation score (40 kb)</text>

      {/* gene lines through b and c */}
      {genePosB.map((g, i) => (
        <g key={i}>
          <line x1={xB(g)} x2={xB(g)} y1={180} y2={i === 1 ? 303 : 541} stroke={i <= 1 ? "#222" : "#666"} strokeWidth={0.9} strokeDasharray={i === 1 ? "1.5,1.5" : "3,2.5"} />
          <text transform={`translate(${xB(g) - 2},181) rotate(-90)`} textAnchor="end" fontSize={9} fontStyle="italic" fill="#222">{geneNames[i]}</text>
        </g>
      ))}

      {/* ---------- panel c ---------- */}
      <text x={1} y={323} fontSize={12.5} fontWeight="bold">c</text>
      {cSeries.map((segs, ci) => {
        const y = yC[ci];
        const area = d3.area<P>().x((d) => xB(d[0])).y0(y(0)).y1((d) => y(d[1]));
        return (
          <g key={ci}>
            {segs.map((s, k) => (
              <path key={k} d={area(s) || ""} fill={C_GREEN} stroke={C_GREEN} strokeWidth={0.6} />
            ))}
            <line x1={39} x2={39} y1={y(-1)} y2={y(1)} stroke="#444" strokeWidth={0.8} />
            {cYTicks.map((t) => {
              const off = t === -1 && ci < 2 ? 0.8 : t === 1 && ci > 0 ? 5.2 : 2.8;
              return (
                <g key={t}>
                  <line x1={35.5} x2={39} y1={y(t)} y2={y(t)} stroke="#444" strokeWidth={0.8} />
                  <text x={33} y={y(t) + off} fontSize={7.6} textAnchor="end" fill={TXT}>{fmt1(t)}</text>
                </g>
              );
            })}
            <text x={67} y={cTops[ci] + 8} fontSize={8.5} fill="#222">{cTitles[ci]}</text>
          </g>
        );
      })}
      <line x1={xB(50)} x2={xB(100)} y1={541} y2={541} stroke="#444" strokeWidth={0.8} />
      {cXTicks.map((t) => (
        <g key={t}>
          <line x1={xB(t)} x2={xB(t)} y1={541} y2={545} stroke="#444" strokeWidth={0.8} />
          <text x={xB(t)} y={555} fontSize={8.5} textAnchor="middle" fill={TXT}>{t}</text>
        </g>
      ))}
      <text x={242} y={568} fontSize={8.5} textAnchor="middle" fill={TXT}>chrX (Mb)</text>
      <text transform="translate(16,423) rotate(-90)" fontSize={8.5} textAnchor="middle" fill={TXT}>Differential insulation scores (40 kb)</text>

      {/* ---------- panels d, e, f ---------- */}
      <Heatmap id="gd" top={0.4} labels={dLabels} matrix={dMatrix} vmin={0} vmax={32} barDomain={[0, 32.3]} ticks={dTicks} tickFmt={(v) => String(v)} title="Euclidean distance" tree={dTree} letter="d" letterY={10} />
      <Heatmap id="ge" top={111.4} labels={eLabels} matrix={eMatrix} vmin={0.38} vmax={1.0} barDomain={[0.352, 1.06]} ticks={eTicks} tickFmt={(v) => v.toFixed(2)} title="Pearson correlation" tree={eTree} letter="e" letterY={118} />
      <Heatmap id="gf" top={221.4} labels={fLabels} matrix={fMatrix} vmin={0.7} vmax={1.0} barDomain={[0.707, 1.042]} ticks={fTicks} tickFmt={(v) => v.toFixed(2)} title="Adjusted rand index" tree={fTree} letter="f" letterY={227} />

      {/* ---------- panel g ---------- */}
      <text x={483} y={330} fontSize={12.5} fontWeight="bold">g</text>
      <text x={555} y={334.5} fontSize={8} textAnchor="middle" fill={TXT}>Xa</text>
      <text x={615} y={334.5} fontSize={8} textAnchor="middle" fill={TXT}>Xi</text>
      {facet(gTopY, gTopWidths, gTopBox, 337, 411, "clipG1")}
      {facet(gBotY, gBotWidths, gBotBox, 416, 491, "clipG2")}
      {gCats.map((c, i) => (
        <g key={i}>
          <line x1={gX(i)} x2={gX(i)} y1={491} y2={494} stroke="#555" strokeWidth={0.7} />
          <text transform={`translate(${gX(i) + 3},497) rotate(-90)`} textAnchor="end" fontSize={8.3} fill={TXT}>{c}</text>
        </g>
      ))}
      <text transform="translate(500,414) rotate(-90)" fontSize={8.3} textAnchor="middle" fill={TXT}>Boundary strength scores (40 kb)</text>
      <text transform="translate(652,374) rotate(90)" fontSize={8.3} textAnchor="middle" fill={TXT}>Entire length of chrX</text>
      <text transform="translate(652,453) rotate(90)" fontSize={8.3} textAnchor="middle" fill={TXT}>
        From <tspan fontStyle="italic">Firre</tspan> to <tspan fontStyle="italic">Xist</tspan>
      </text>
    </svg>
  );
}
